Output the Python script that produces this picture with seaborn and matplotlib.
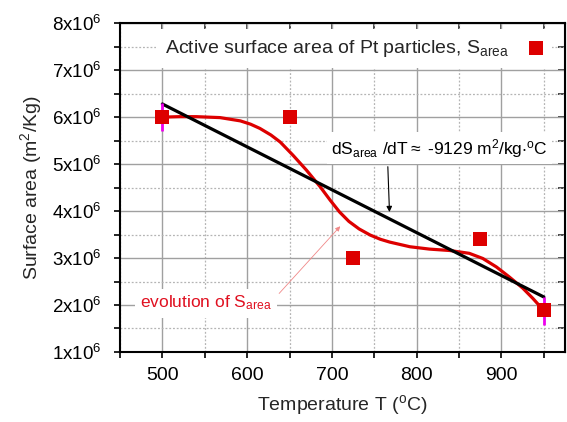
import matplotlib.pyplot as plt
import seaborn as sns
from matplotlib.ticker import MultipleLocator, FuncFormatter

# measured points (temperature in C, surface area in m2/kg)
temp = [500, 650, 725, 875, 950]
s_area = [6.0e6, 6.0e6, 3.0e6, 3.4e6, 1.9e6]

# error bars on the two end points
err_temp = [500, 950]
err_s = [6.0e6, 1.87e6]
err_size = [0.3e6, 0.3e6]

# linear fit, dS/dT ~ -9129
fit_temp = [500, 950]
fit_s = [6.28e6, 2.17e6]

# smooth "evolution" curve
curve_temp = [500, 520, 540, 568, 592, 604, 615, 628, 639, 654, 670, 686, 698,
              709, 720, 732, 745, 757, 768, 792, 815, 839, 862, 878, 894, 909,
              925, 937, 945, 950]
curve_s = [6.00e6, 6.01e6, 6.01e6, 5.99e6, 5.92e6, 5.85e6, 5.76e6, 5.62e6,
           5.47e6, 5.19e6, 4.87e6, 4.52e6, 4.23e6, 3.98e6, 3.78e6, 3.62e6,
           3.49e6, 3.40e6, 3.34e6, 3.24e6, 3.19e6, 3.16e6, 3.10e6, 2.99e6,
           2.81e6, 2.60e6, 2.36e6, 2.14e6, 1.98e6, 1.88e6]

red = '#dd0000'

sns.set_style('ticks')
plt.rcParams['font.family'] = ['Liberation Sans', 'DejaVu Sans']
plt.rcParams['mathtext.fontset'] = 'custom'
plt.rcParams['mathtext.rm'] = 'Liberation Sans'
plt.rcParams['mathtext.it'] = 'Liberation Sans'
plt.rcParams['mathtext.default'] = 'regular'

fig = plt.figure(figsize=(5.67, 4.22), dpi=100)
ax = fig.add_axes([0.2116, 0.166, 0.785, 0.779])

# grid
ax.set_axisbelow(True)
ax.grid(which='major', color='#a0a0a0', lw=1.0, ls='-')
ax.grid(which='minor', color='#b4b4b4', lw=0.9, ls=(0, (1.5, 1.5)))

sns.lineplot(x=curve_temp, y=curve_s, color=red, lw=2.3, sort=False,
             estimator=None, ax=ax, zorder=3, solid_joinstyle='round')
sns.lineplot(x=fit_temp, y=fit_s, color='black', lw=2.3, ax=ax, zorder=4)
ax.errorbar(err_temp, err_s, yerr=err_size, fmt='none', ecolor='#ee00ee',
            elinewidth=2, capsize=0, zorder=4.5)
sns.scatterplot(x=temp, y=s_area, marker='s', s=110, color=red,
                edgecolor=red, linewidth=0, ax=ax, zorder=5,
                label=r'Active surface area of Pt particles, $S_{area}$')

ax.set_xlim(450, 975)
ax.set_ylim(1e6, 8e6)
ax.xaxis.set_major_locator(MultipleLocator(100))
ax.xaxis.set_minor_locator(MultipleLocator(50))
ax.yaxis.set_major_locator(MultipleLocator(1e6))
ax.yaxis.set_minor_locator(MultipleLocator(0.5e6))
ax.yaxis.set_major_formatter(FuncFormatter(lambda v, p: f'{int(round(v / 1e6))}x10$^6$'))

ax.tick_params(axis='both', which='both', direction='out', colors='black',
               width=1.2, length=4)
ax.tick_params(axis='x', labelsize=14, pad=7)
ax.tick_params(axis='y', labelsize=13.5, pad=9)

for sp in ax.spines.values():
    sp.set_color('black')
    sp.set_linewidth(1.5)

# inward ticks on top and right
top = ax.secondary_xaxis('top')
top.xaxis.set_major_locator(MultipleLocator(50))
top.tick_params(direction='in', length=6, width=1.2, labeltop=False)
right = ax.secondary_yaxis('right')
right.yaxis.set_major_locator(MultipleLocator(0.5e6))
right.tick_params(direction='in', length=5, width=1.2, labelright=False)

ax.set_xlabel(r'Temperature T ($^{o}$C)', fontsize=14, labelpad=6)
ax.set_ylabel(r'Surface area (m$^2$/Kg)', fontsize=14, labelpad=6)

leg = ax.legend(loc='upper right', bbox_to_anchor=(0.971, 0.981),
                borderaxespad=0, markerfirst=False, fontsize=14,
                frameon=True, fancybox=False, framealpha=1,
                edgecolor='none', facecolor='white', handlelength=0.8,
                handletextpad=1.0, borderpad=0.45)

ax.annotate(r'dS$_{area}$ /dT$\approx$ -9129 m$^2$/kg$\cdot^o$C',
            xy=(768, 3.92e6), xytext=(827, 5.34e6), ha='center', va='center',
            fontsize=12.5, color='black', zorder=6,
            bbox=dict(boxstyle='square,pad=0.25', fc='white', ec='none'),
            arrowprops=dict(arrowstyle='-|>', color='black', lw=0.8,
                            mutation_scale=8, relpos=(0.26, 0.0)))

ax.annotate(r'evolution of S$_{area}$',
            xy=(712, 3.72e6), xytext=(474, 2.04e6), ha='left', va='center',
            fontsize=12.5, color='#e01020', zorder=6,
            bbox=dict(boxstyle='square,pad=0.3', fc='white', ec='none'),
            arrowprops=dict(arrowstyle='-|>', color='#f08888', lw=0.6,
                            mutation_scale=7, relpos=(1.0, 0.6)))

fig.savefig('out.png', dpi=100)
